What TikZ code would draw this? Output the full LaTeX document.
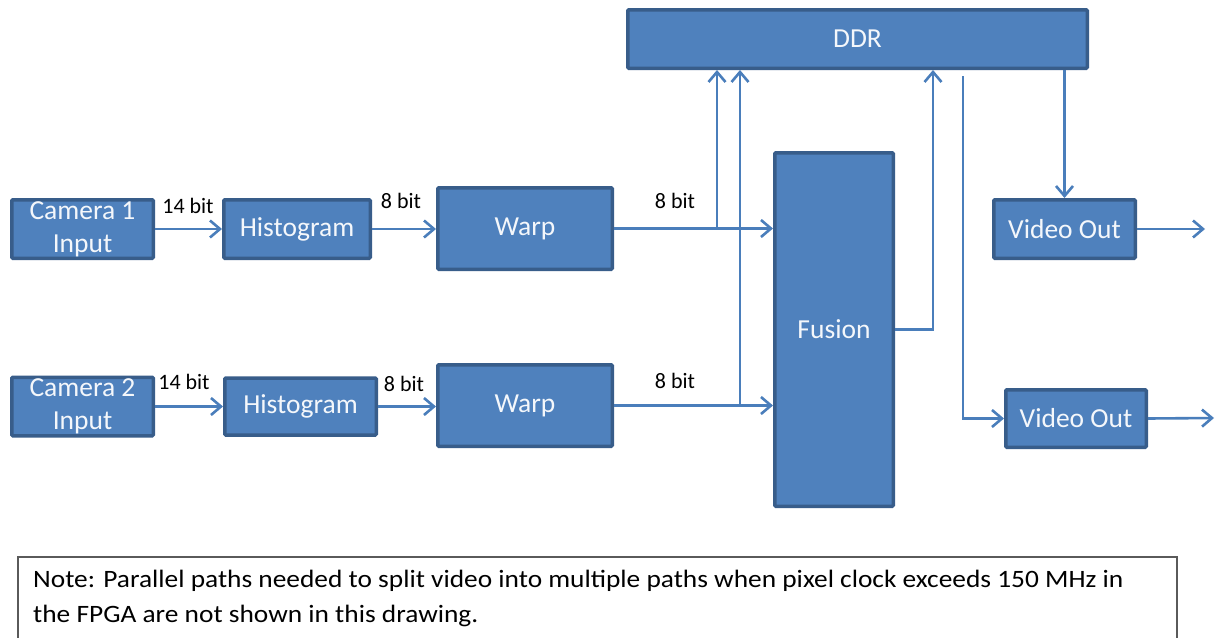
\documentclass[tikz,border=0pt]{standalone}
\usepackage{fontspec}
\setmainfont{Carlito}
\newfontfamily\notefont[FakeStretch=1.095]{Carlito}
\usetikzlibrary{arrows.meta}
\definecolor{blkfill}{HTML}{4F81BD}
\definecolor{blkline}{HTML}{385D8A}
\definecolor{wire}{HTML}{4A7EBB}
\definecolor{notegray}{HTML}{5A5A5A}
\definecolor{blktext}{HTML}{F4F7FB}
\tikzset{
  blk/.style={draw=blkline, fill=blkfill, line width=3.5pt, rounded corners=1pt,
    text=blktext, align=center, inner sep=0pt,
    font=\fontsize{27.5}{33}\selectfont},
  wire/.style={draw=wire, line width=2.6pt},
  arr/.style={wire, -{Straight Barb[length=10pt, width=17pt, line width=2.6pt]}},
  bits/.style={font=\fontsize{22}{24}\selectfont, text=black, inner sep=0pt},
  notebox/.style={draw=notegray, line width=1.5pt, fill=white, anchor=north west,
    minimum width=1159pt, minimum height=120pt, inner sep=0pt},
  notetext/.style={font=\notefont\fontsize{25}{35}\selectfont, text=black, anchor=base west, inner sep=0pt}
}
\begin{document}
\begin{tikzpicture}[x=1pt, y=-1pt]
\clip (0,0) rectangle (1217,637);
\fill[white] (0,0) rectangle (1217,637);

% processing blocks
\node[blk, minimum width=141.5pt, minimum height=58.5pt] (cam1) at (82.5,229) {Camera 1\\Input};
\node[blk, minimum width=146.5pt, minimum height=58.5pt] (hist1) at (297,229) {Histogram};
\node[blk, minimum width=174.5pt, minimum height=81.5pt] (warp1) at (525,228.5) {Warp};
\node[blk, minimum width=141.5pt, minimum height=58.5pt] (cam2) at (82.5,406.5) {Camera 2\\Input};
\node[blk, minimum width=151.5pt, minimum height=57pt] (hist2) at (300.5,406.5) {Histogram};
\node[blk, minimum width=174.5pt, minimum height=81.5pt] (warp2) at (525,405.5) {Warp};
\node[blk, minimum width=118.5pt, minimum height=353.5pt] (fusion) at (834,329.5) {Fusion};
\node[blk, minimum width=459.5pt, minimum height=58.5pt] (ddr) at (857.5,39) {DDR};
\node[blk, minimum width=141.5pt, minimum height=58.5pt] (vo1) at (1064.5,229) {Video Out};
\node[blk, minimum width=140.5pt, minimum height=57.5pt] (vo2) at (1076,418.5) {Video Out};

% free ends and branch points
\coordinate (b1) at (717,228.5);
\coordinate (b2) at (740,405.5);
\coordinate (fz) at (933,329.5);
\coordinate (t0) at (963,76);
\coordinate (o1) at (1205,229);
\coordinate (o2) at (1214,418);

% upper channel
\draw[arr] (cam1.east) -- (hist1.west);
\draw[arr] (hist1.east) -- (hist1.east -| warp1.west);
\draw[arr] (warp1.east) -- (fusion.west |- warp1.east);
\draw[arr] (b1) -- (b1 |- ddr.south);

% lower channel
\draw[arr] (cam2.east) -- (hist2.west);
\draw[arr] (hist2.east) -- (hist2.east -| warp2.west);
\draw[arr] (warp2.east) -- (fusion.west |- warp2.east);
\draw[arr] (b2) -- (b2 |- ddr.south);

% fusion to memory, memory to outputs
\draw[arr] (fusion.east) -- (fz) -- (fz |- ddr.south);
\draw[arr] (ddr.south -| vo1.north) -- (vo1.north);
\draw[arr] (t0) |- (vo2.west);
\draw[arr] (vo1.east) -- (o1);
\draw[arr] (vo2.east) -- (o2);

% bus widths
\node[bits] (l1) at (188,206) {14 bit};
\node[bits] (l2) at (401,201) {8 bit};
\node[bits] (l3) at (675,201) {8 bit};
\node[bits] (l4) at (184,382) {14 bit};
\node[bits] (l5) at (404,384) {8 bit};
\node[bits] (l6) at (675,381) {8 bit};

% note
\node[notebox] (note) at (17,556) {};
\node[notetext] (n1) at (33,587) {Note: Parallel paths needed to split video into multiple paths when pixel clock exceeds 150 MHz in};
\node[notetext] (n2) at (33,622) {the FPGA are not shown in this drawing.};
\end{tikzpicture}
\end{document}
